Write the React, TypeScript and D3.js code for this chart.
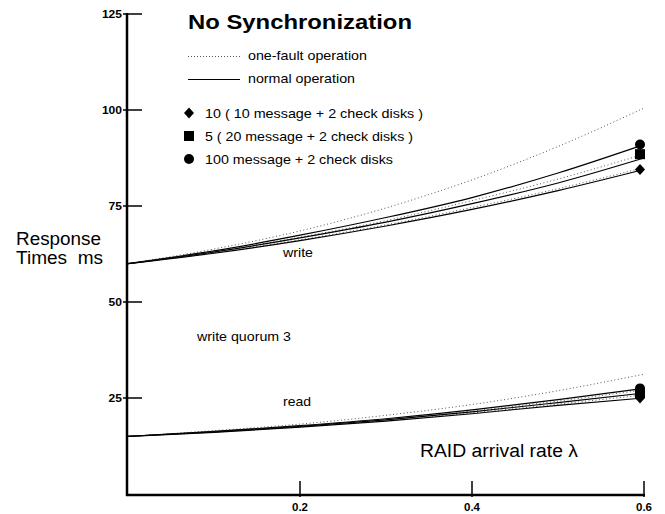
import React, { useRef, useEffect } from 'react';
import * as d3 from 'd3';

// arrival rate samples
const lambdas = [0, 0.1, 0.2, 0.3, 0.4, 0.5, 0.6];

// write curves (ms)
const writeOneFault100 = [60, 63.8, 68.5, 74.5, 81.8, 90.5, 100.5];
const writeNormal100 = [60, 63.3, 67.4, 72.0, 77.2, 83.6, 91.0];
const writeOneFault5 = [60, 63.1, 66.9, 71.2, 76.4, 82.0, 88.5];
const writeNormal5 = [60, 63.0, 66.7, 70.8, 75.6, 81.0, 87.5];
const writeOneFault10 = [60, 62.8, 66.2, 70.1, 74.6, 79.5, 85.0];
const writeNormal10 = [60, 62.7, 66.0, 69.8, 74.1, 79.0, 84.5];

// read curves (ms)
const readOneFault100 = [15, 16.5, 18.2, 20.5, 23.3, 26.9, 31.2];
const readNormal100 = [15, 16.3, 17.8, 19.6, 21.9, 24.6, 27.5];
const readOneFault5 = [15, 16.25, 17.7, 19.4, 21.6, 24.2, 27.1];
const readNormal5 = [15, 16.2, 17.6, 19.3, 21.4, 23.8, 26.3];
const readOneFault10 = [15, 16.1, 17.5, 19.1, 21.1, 23.4, 25.8];
const readNormal10 = [15, 16.05, 17.4, 19.0, 20.9, 23.1, 25.0];

const yTicks = [25, 50, 75, 100, 125];
const xTicks = [0.2, 0.4, 0.6];

const legendConfigs = [
  { shape: 'diamond', label: '10 ( 10 message + 2 check disks )', w: 218 },
  { shape: 'square', label: '5 ( 20 message + 2 check disks )', w: 208 },
  { shape: 'circle', label: '100 message + 2 check disks', w: 188 },
];

const FONT = '"Liberation Sans", Arial, Helvetica, sans-serif';

const App = () => {
  const svgRef = useRef<SVGSVGElement>(null);

  useEffect(() => {
    const width = 665;
    const height = 514;
    const svg = d3.select(svgRef.current).attr('width', width).attr('height', height);
    svg.selectAll('*').remove();

    const x = d3.scaleLinear().domain([0, 0.6]).range([128, 644]);
    const y = d3.scaleLinear().domain([0, 125]).range([494, 14]);

    const line = d3
      .line<number>()
      .x((_, i) => x(lambdas[i]))
      .y(d => y(d))
      .curve(d3.curveMonotoneX);

    const curves = [
      { values: writeOneFault100, dotted: true },
      { values: writeNormal100, dotted: false },
      { values: writeOneFault5, dotted: true },
      { values: writeNormal5, dotted: false },
      { values: writeOneFault10, dotted: true },
      { values: writeNormal10, dotted: false },
      { values: readOneFault100, dotted: true },
      { values: readNormal100, dotted: false },
      { values: readOneFault5, dotted: true },
      { values: readNormal5, dotted: false },
      { values: readOneFault10, dotted: true },
      { values: readNormal10, dotted: false },
    ];

    curves.forEach(c => {
      svg
        .append('path')
        .attr('d', line(c.values))
        .attr('fill', 'none')
        .attr('stroke', c.dotted ? '#555' : '#000')
        .attr('stroke-width', c.dotted ? 1 : 1.2)
        .attr('stroke-dasharray', c.dotted ? '1,2.5' : null);
    });

    // markers at the end of the normal curves
    const drawMarker = (shape: string, cx: number, cy: number) => {
      if (shape === 'circle') {
        svg.append('circle').attr('cx', cx).attr('cy', cy).attr('r', 5).attr('fill', '#000');
      } else if (shape === 'square') {
        svg.append('rect').attr('x', cx - 5).attr('y', cy - 5).attr('width', 10).attr('height', 10).attr('fill', '#000');
      } else {
        svg
          .append('path')
          .attr('d', `M${cx},${cy - 5.5}L${cx + 5},${cy}L${cx},${cy + 5.5}L${cx - 5},${cy}Z`)
          .attr('fill', '#000');
      }
    };
    const last = lambdas.length - 1;
    drawMarker('circle', x(lambdas[last]) - 4, y(writeNormal100[last]));
    drawMarker('square', x(lambdas[last]) - 4, y(writeOneFault5[last]));
    drawMarker('diamond', x(lambdas[last]) - 4, y(writeNormal10[last]));
    drawMarker('circle', x(lambdas[last]) - 4, y(readNormal100[last]));
    drawMarker('square', x(lambdas[last]) - 4, y(readNormal5[last]));
    drawMarker('diamond', x(lambdas[last]) - 4, y(readNormal10[last]));

    const label = (tx: number, ty: number, s: string, size: number, w: number, anchor = 'start', bold = false) =>
      svg
        .append('text')
        .attr('x', tx)
        .attr('y', ty)
        .attr('font-family', FONT)
        .attr('font-size', size)
        .attr('font-weight', bold ? 'bold' : 'normal')
        .attr('text-anchor', anchor)
        .attr('textLength', w)
        .attr('lengthAdjust', 'spacingAndGlyphs')
        .style('white-space', 'pre')
        .text(s);

    // axes
    svg.append('line').attr('x1', 127).attr('x2', 127).attr('y1', y(125) - 1).attr('y2', 496)
      .attr('stroke', '#000').attr('stroke-width', 2.5);
    svg.append('line').attr('x1', 126).attr('x2', x(0.6) + 1).attr('y1', 495).attr('y2', 495)
      .attr('stroke', '#000').attr('stroke-width', 2.5);

    yTicks.forEach(t => {
      svg.append('line').attr('x1', 123).attr('x2', 142).attr('y1', y(t)).attr('y2', y(t))
        .attr('stroke', '#000').attr('stroke-width', 1.5);
      label(122, y(t) + 4, String(t), 11, String(t).length * 6.7, 'end', true);
    });
    xTicks.forEach(t => {
      svg.append('line').attr('x1', x(t)).attr('x2', x(t)).attr('y1', 481).attr('y2', 497)
        .attr('stroke', '#000').attr('stroke-width', 1.5);
      label(x(t), 511, String(t), 11, 16, 'middle', true);
    });

    // title and legend
    label(188, 29, 'No Synchronization', 21, 224, 'start', true);

    svg.append('line').attr('x1', 188).attr('x2', 240).attr('y1', 56.5).attr('y2', 56.5)
      .attr('stroke', '#555').attr('stroke-width', 1).attr('stroke-dasharray', '1,2');
    label(248, 60, 'one-fault operation', 13, 119);
    svg.append('line').attr('x1', 188).attr('x2', 240).attr('y1', 79.5).attr('y2', 79.5)
      .attr('stroke', '#000').attr('stroke-width', 1.2);
    label(248, 83, 'normal operation', 13, 107);

    legendConfigs.forEach((c, i) => {
      const cy = 113 + i * 23;
      drawMarker(c.shape, 189, cy);
      label(205, cy + 4.5, c.label, 13, c.w);
    });

    // annotations
    label(16, 245, 'Response', 18, 85);
    label(16, 264, 'Times  ms', 18, 87);
    label(283, 257, 'write', 13, 30);
    label(197, 341, 'write quorum 3', 13, 94);
    label(283, 406, 'read', 13, 28);
    label(420, 457, 'RAID arrival rate \u03bb', 18, 158);
  }, []);

  return (
    <div style={{ position: 'absolute', left: 0, top: 0, background: '#fff' }}>
      <svg ref={svgRef} />
    </div>
  );
};

export default App;
